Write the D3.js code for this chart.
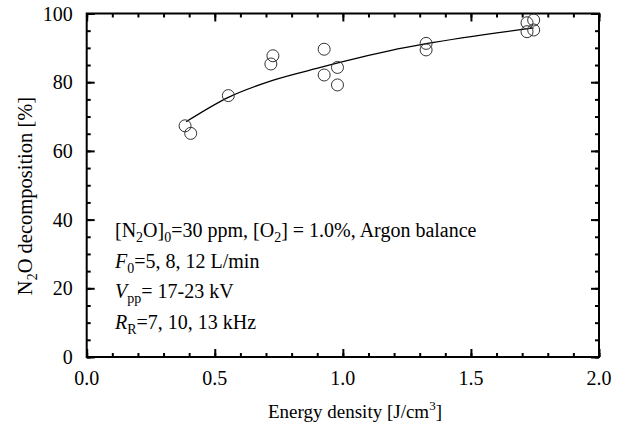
<!DOCTYPE html>
<html><head><meta charset="utf-8">
<script src="https://cdn.jsdelivr.net/npm/d3@7"></script>
<style>body{margin:0;background:#fff;} text{font-family:"Liberation Serif","Times New Roman",serif;}</style>
</head><body><svg id="c" width="632" height="430"></svg>
<script>
const energy = [0.384,0.406,0.553,0.727,0.719,0.927,0.927,0.979,0.979,1.325,1.325,1.719,1.745,1.719,1.745];
const decomp = [67.3,65.1,76.1,87.7,85.3,89.6,82.1,84.3,79.2,91.3,89.4,97.3,98.1,94.7,95.2];
const fitX = [0.388,0.553,0.729,0.924,1.0,1.185,1.325,1.745];
const fitY = [68.5,75.6,80.6,84.5,86.0,89.2,91.2,95.8];
const xTicks = [0,0.5,1.0,1.5,2.0];
const yTicks = [0,20,40,60,80,100];

const svg = d3.select("#c");
const L=86.7,R=599,T=13.5,B=357;
const x = d3.scaleLinear().domain([0,2]).range([L,R]);
const y = d3.scaleLinear().domain([0,100]).range([B,T]);
const g = svg.append("g");
const FS = 20, SUB = 14;

function ticks(axisGen, tr){
  const a = g.append("g").attr("transform",tr).call(axisGen);
  a.select(".domain").remove();
  a.selectAll("text").remove();
  a.selectAll("line").attr("stroke","#000").attr("stroke-width",2);
}
const minorX = d3.range(0,2.0001,0.1), minorY = d3.range(0,100.001,5);
ticks(d3.axisBottom(x).tickValues(minorX).tickSize(-4),`translate(0,${B})`);
ticks(d3.axisBottom(x).tickValues(xTicks).tickSize(-8),`translate(0,${B})`);
ticks(d3.axisTop(x).tickValues(minorX).tickSize(-4),`translate(0,${T})`);
ticks(d3.axisTop(x).tickValues(xTicks).tickSize(-8),`translate(0,${T})`);
ticks(d3.axisLeft(y).tickValues(minorY).tickSize(-4),`translate(${L},0)`);
ticks(d3.axisLeft(y).tickValues(yTicks).tickSize(-8),`translate(${L},0)`);
ticks(d3.axisRight(y).tickValues(minorY).tickSize(-4),`translate(${R},0)`);
ticks(d3.axisRight(y).tickValues(yTicks).tickSize(-8),`translate(${R},0)`);

g.append("rect").attr("x",L).attr("y",T).attr("width",R-L).attr("height",B-T)
 .attr("fill","none").attr("stroke","#000").attr("stroke-width",2);

g.selectAll(".xl").data(xTicks).enter().append("text")
 .attr("x",d=>x(d)).attr("y",B+28).attr("text-anchor","middle").attr("font-size",FS)
 .text(d=>d3.format(".1f")(d));
g.selectAll(".yl").data(yTicks).enter().append("text")
 .attr("x",L-14).attr("y",d=>y(d)+7).attr("text-anchor","end").attr("font-size",FS)
 .text(d=>d);

const xt = g.append("text").attr("x",355).attr("y",418).attr("text-anchor","middle").attr("font-size",19);
xt.append("tspan").text("Energy density [J/cm");
xt.append("tspan").attr("font-size",13).attr("dy",-8).text("3");
xt.append("tspan").attr("dy",8).text("]");

const yt = g.append("text").attr("transform",`translate(32,196) rotate(-90)`).attr("text-anchor","middle").attr("font-size",20.5);
yt.append("tspan").text("N");
yt.append("tspan").attr("font-size",SUB).attr("dy",5).text("2");
yt.append("tspan").attr("dy",-5).text("O decomposition [%]");

g.append("path").datum(fitX.map((d,i)=>[d,fitY[i]]))
 .attr("d",d3.line().x(d=>x(d[0])).y(d=>y(d[1])).curve(d3.curveMonotoneX))
 .attr("fill","none").attr("stroke","#000").attr("stroke-width",1.3);

g.selectAll(".pt").data(energy.map((d,i)=>[d,decomp[i]])).enter().append("circle")
 .attr("cx",d=>x(d[0])).attr("cy",d=>y(d[1])).attr("r",6)
 .attr("fill","none").attr("stroke","#333").attr("stroke-width",1);

const ax = 115, ay0 = 237, dy = 30.5;
function sub(t, s){ t.append("tspan").attr("font-size",SUB).attr("dy",5).text(s); }
function up(t, s){ t.append("tspan").attr("dy",-5).text(s); }
let t1 = g.append("text").attr("x",ax).attr("y",ay0).attr("font-size",FS);
t1.append("tspan").text("[N"); sub(t1,"2"); up(t1,"O]"); sub(t1,"0"); up(t1,"=30 ppm, [O"); sub(t1,"2"); up(t1,"] = 1.0%, Argon balance");
let t2 = g.append("text").attr("x",ax).attr("y",ay0+dy).attr("font-size",FS);
t2.append("tspan").attr("font-style","italic").text("F"); sub(t2,"0"); up(t2,"=5, 8, 12 L/min");
let t3 = g.append("text").attr("x",ax).attr("y",ay0+2*dy).attr("font-size",FS);
t3.append("tspan").attr("font-style","italic").text("V"); sub(t3,"pp"); up(t3,"= 17-23 kV");
let t4 = g.append("text").attr("x",ax).attr("y",ay0+3*dy).attr("font-size",FS);
t4.append("tspan").attr("font-style","italic").text("R"); sub(t4,"R"); up(t4,"=7, 10, 13 kHz");
</script></body></html>
